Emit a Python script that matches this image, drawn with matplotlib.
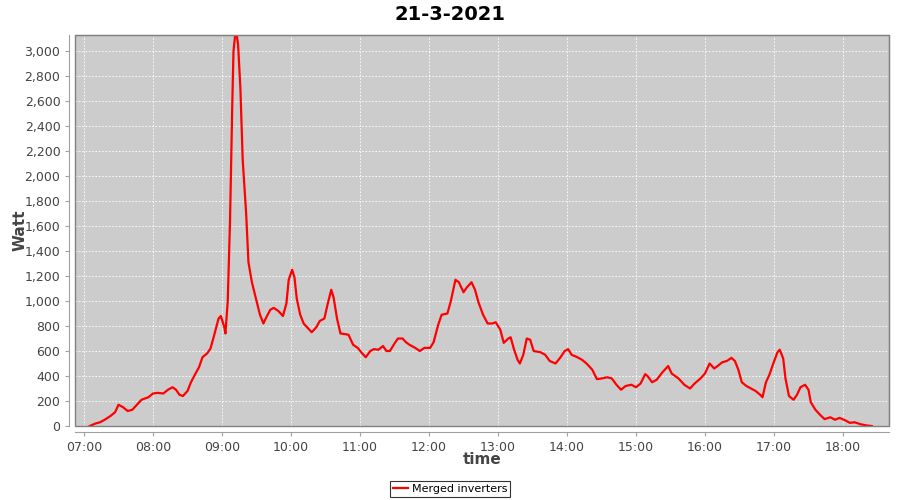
import matplotlib
matplotlib.use("Agg")
import matplotlib.pyplot as plt
from matplotlib.ticker import FuncFormatter, MultipleLocator
from matplotlib.patches import Rectangle

# =========================
# DATA
# =========================
TITLE = "21-3-2021"
SERIES_NAME = "Merged inverters"

times = [
    "07:05", "07:10", "07:14", "07:18", "07:23", "07:27", "07:30", "07:34", "07:38", "07:42",
    "07:46", "07:50", "07:56", "08:00", "08:04", "08:09", "08:13", "08:17", "08:20", "08:23",
    "08:26", "08:30", "08:33", "08:37", "08:40", "08:43", "08:47", "08:50", "08:53", "08:57",
    "08:59", "09:02", "09:03", "09:05", "09:07", "09:09", "09:10", "09:12", "09:14", "09:16",
    "09:18", "09:21", "09:23", "09:26", "09:30", "09:33", "09:36", "09:38", "09:42", "09:45",
    "09:49", "09:53", "09:56", "09:58", "10:01", "10:03", "10:05", "10:08", "10:11", "10:16",
    "10:18", "10:22", "10:25", "10:29", "10:32", "10:35", "10:37", "10:40", "10:43", "10:47",
    "10:50", "10:54", "10:58", "11:02", "11:05", "11:09", "11:12", "11:16", "11:20", "11:23",
    "11:26", "11:30", "11:33", "11:37", "11:40", "11:43", "11:48", "11:52", "11:56", "12:01",
    "12:04", "12:08", "12:11", "12:16", "12:19", "12:23", "12:26", "12:30", "12:33", "12:37",
    "12:40", "12:43", "12:47", "12:51", "12:55", "12:58", "13:02", "13:05", "13:09", "13:11",
    "13:14", "13:17", "13:19", "13:22", "13:25", "13:28", "13:31", "13:37", "13:41", "13:45",
    "13:50", "13:54", "13:58", "14:01", "14:04", "14:09", "14:13", "14:17", "14:22", "14:26",
    "14:30", "14:35", "14:39", "14:43", "14:47", "14:51", "14:56", "15:00", "15:04", "15:08",
    "15:10", "15:14", "15:18", "15:23", "15:28", "15:31", "15:37", "15:42", "15:47", "15:51",
    "15:56", "16:00", "16:04", "16:08", "16:11", "16:15", "16:19", "16:23", "16:26", "16:29",
    "16:32", "16:36", "16:40", "16:44", "16:48", "16:50", "16:53", "16:56", "16:59", "17:03",
    "17:05", "17:08", "17:10", "17:13", "17:17", "17:20", "17:23", "17:27", "17:30", "17:32",
    "17:36", "17:40", "17:44", "17:49", "17:53", "17:57", "18:02", "18:06", "18:10", "18:15",
    "18:20", "18:25",
]

watt = [
    0, 20, 30, 50, 80, 110, 170, 150, 120, 130,
    170, 210, 230, 260, 265, 260, 290, 310, 290, 250,
    240, 280, 350, 420, 470, 550, 580, 620, 720, 860,
    880, 790, 740, 1000, 1650, 2600, 3000, 3180, 3050, 2700,
    2130, 1700, 1310, 1150, 1000, 890, 820, 860, 930, 945,
    920, 880, 980, 1170, 1250, 1190, 1020, 890, 820, 770,
    750, 790, 840, 860, 980, 1090, 1030, 860, 740, 735,
    730, 650, 625, 580, 550, 600, 615, 610, 640, 600,
    600, 660, 700, 700, 670, 650, 625, 600, 625, 625,
    670, 810, 890, 900, 1000, 1170, 1150, 1070, 1110, 1150,
    1090, 990, 890, 820, 820, 830, 770, 665, 700, 710,
    610, 530, 500, 570, 700, 690, 600, 590, 570, 520,
    500, 545, 600, 615, 570, 550, 530, 500, 450, 375,
    380, 390, 380, 330, 290, 320, 330, 310, 340, 415,
    400, 350, 370, 430, 480, 420, 380, 330, 300, 340,
    380, 420, 500, 460, 480, 510, 520, 545, 520, 450,
    350, 320, 300, 280, 250, 230, 350, 410, 490, 590,
    610, 540, 380, 240, 210, 250, 310, 330, 290, 190,
    130, 90, 55, 70, 50, 65, 45, 25, 30, 15,
    5, 0,
]

hour_ticks = list(range(7, 19))


def to_hours(s):
    h, m = s.split(":")
    return int(h) + int(m) / 60.0


x = [to_hours(t) for t in times]

# =========================
# PLOT
# =========================
plt.rcParams["font.family"] = ["DejaVu Sans"]

fig = plt.figure(figsize=(9, 5), dpi=100)
ax = fig.add_axes([75 / 900, 1 - 426 / 500, (889 - 75) / 900, (426 - 35) / 500])

ax.set_facecolor("#cccccc")
ax.plot(x, watt, color="#ff0000", linewidth=1.6, label=SERIES_NAME)

ax.set_xlim(7 - 9 / 69, 18 + 46 / 69)
ax.set_ylim(0, 3128)

ax.set_xticks(hour_ticks)
ax.xaxis.set_major_formatter(FuncFormatter(lambda v, p: "%02d:00" % int(round(v))))
ax.yaxis.set_major_locator(MultipleLocator(200))
ax.yaxis.set_major_formatter(FuncFormatter(lambda v, p: f"{int(v):,}"))

ax.grid(True, color="white", linestyle=(0, (2, 2)), linewidth=0.6)
ax.set_axisbelow(True)

for side in ["top", "right", "left", "bottom"]:
    ax.spines[side].set_color("#808080")
    ax.spines[side].set_linewidth(0.8)
ax.spines["left"].set_position(("outward", 4))
ax.spines["bottom"].set_position(("outward", 4))
ax.spines["left"].set_color("#a0a0a0")
ax.spines["bottom"].set_color("#a0a0a0")

# plot frame
ax.add_patch(Rectangle((0, 0), 1, 1, transform=ax.transAxes, fill=False,
                       edgecolor="#808080", linewidth=1.0, clip_on=False, zorder=5))

ax.tick_params(axis="both", colors="#a0a0a0", labelcolor="#444444",
               labelsize=9, length=3, width=0.8)

ax.set_xlabel("time", fontsize=11, fontweight="bold", color="#444444")
ax.set_ylabel("Watt", fontsize=11, fontweight="bold", color="#444444")
ax.xaxis.set_label_coords(0.5, -(452 - 426) / 391)
ax.yaxis.set_label_coords(-(75 - 28) / 814, 0.5)

fig.text(0.5, 1 - 14 / 500, TITLE, ha="center", va="center",
         fontsize=14, fontweight="bold", color="black")

leg = fig.legend(loc="center", bbox_to_anchor=(450 / 900, 1 - 489 / 500),
                 frameon=True, fancybox=False, fontsize=8, handlelength=1.4,
                 handletextpad=0.3, borderpad=0.25, borderaxespad=0)
leg.get_frame().set_edgecolor("black")
leg.get_frame().set_linewidth(0.8)

fig.savefig("out.png", dpi=100)
